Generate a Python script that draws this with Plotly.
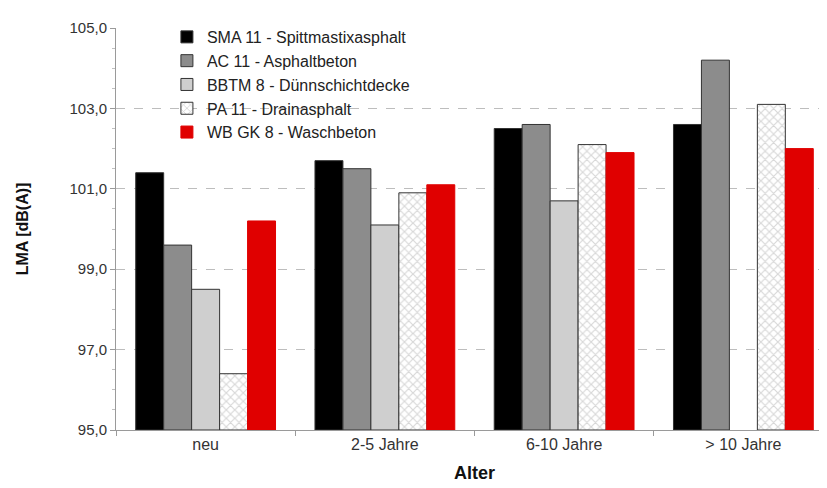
import plotly.graph_objects as go

categories = ["neu", "2-5 Jahre", "6-10 Jahre", "> 10 Jahre"]
series_names = [
    "SMA 11 - Spittmastixasphalt",
    "AC 11 - Asphaltbeton",
    "BBTM 8 - Dünnschichtdecke",
    "PA 11 - Drainasphalt",
    "WB GK 8 - Waschbeton",
]
sma = [101.4, 101.7, 102.5, 102.6]
ac = [99.6, 101.5, 102.6, 104.2]
bbtm = [98.5, 100.1, 100.7, None]
pa = [96.4, 100.9, 102.1, 103.1]
wb = [100.2, 101.1, 101.9, 102.0]

values = [sma, ac, bbtm, pa, wb]
colors = ["#000000", "#8c8c8c", "#cfcfcf", "#ffffff", "#e00000"]

fig = go.Figure()
for i, (name, vals, col) in enumerate(zip(series_names, values, colors)):
    marker = dict(color=col, line=dict(color="#333333", width=1))
    if i == 3:
        marker["pattern"] = dict(shape="x", fgcolor="#b0b0b0", bgcolor="#ffffff",
                                 size=6, solidity=0.35)
    if i == 4:
        marker["line"] = dict(color="#e00000", width=1)
    fig.add_trace(go.Bar(
        x=categories, y=[v - 95 if v is not None else None for v in vals],
        base=95, name=name, marker=marker, legendgroup=str(i),
    ))

fig.update_layout(
    width=827, height=488,
    margin=dict(l=108, r=2, t=20, b=66),
    paper_bgcolor="white", plot_bgcolor="white",
    barmode="group", bargap=0.22, bargroupgap=0,
    separators=",.",
    font=dict(family="Arial, Liberation Sans, sans-serif", size=15, color="#333333"),
    showlegend=True,
    legend=dict(
        x=0.071, y=1.02, xanchor="left", yanchor="top",
        bgcolor="rgba(255,255,255,0)", font=dict(size=16, color="#222222"),
        tracegroupgap=6, traceorder="normal",
    ),
)
fig.update_yaxes(
    range=[95, 105], tick0=95, dtick=2, tickformat=".1f",
    tickfont=dict(size=15),
    showgrid=True, gridcolor="#bdbdbd", griddash="dash", gridwidth=1,
    showline=True, linecolor="#9a9a9a", linewidth=1,
    ticks="outside", ticklen=5, tickcolor="#9a9a9a",
    minor=dict(ticks="outside", ticklen=3, tickcolor="#c0c0c0", dtick=0.5, showgrid=False),
    title=dict(text="<b>LMA [dB(A)]</b>", font=dict(size=16, color="#111111"), standoff=36),
    zeroline=False,
)
fig.update_xaxes(
    tickfont=dict(size=16),
    showline=True, linecolor="#9a9a9a", linewidth=1,
    ticks="outside", tickson="boundaries", ticklen=5, tickcolor="#9a9a9a",
    title=dict(text="<b>Alter</b>", font=dict(size=18, color="#111111"), standoff=14),
)

fig.write_html("out.html")
